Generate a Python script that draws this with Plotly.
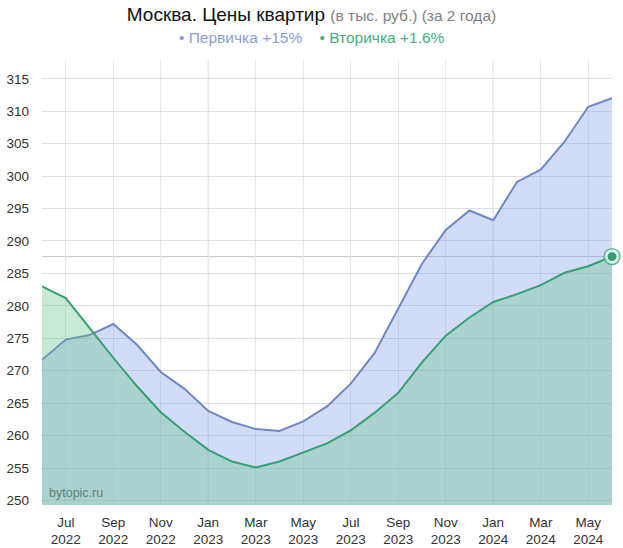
import plotly.graph_objects as go

months = ["2022-06", "2022-07", "2022-08", "2022-09", "2022-10", "2022-11", "2022-12",
          "2023-01", "2023-02", "2023-03", "2023-04", "2023-05", "2023-06", "2023-07",
          "2023-08", "2023-09", "2023-10", "2023-11", "2023-12", "2024-01", "2024-02",
          "2024-03", "2024-04", "2024-05", "2024-06"]
primary = [271.7, 274.8, 275.5, 277.2, 274.0, 269.8, 267.2, 263.8, 262.1, 261.0, 260.7,
           262.2, 264.5, 268.0, 272.7, 279.6, 286.5, 291.7, 294.7, 293.2, 299.1, 301.0,
           305.3, 310.7, 312.0]
secondary = [283.0, 281.2, 276.6, 272.0, 267.6, 263.6, 260.6, 257.8, 256.0, 255.1, 256.0,
             257.4, 258.8, 260.8, 263.5, 266.6, 271.3, 275.4, 278.2, 280.6, 281.8, 283.2,
             285.1, 286.1, 287.6]
tick_months = ["2022-07", "2022-09", "2022-11", "2023-01", "2023-03", "2023-05",
               "2023-07", "2023-09", "2023-11", "2024-01", "2024-03", "2024-05"]
tick_labels = ["Jul<br>2022", "Sep<br>2022", "Nov<br>2022", "Jan<br>2023", "Mar<br>2023",
               "May<br>2023", "Jul<br>2023", "Sep<br>2023", "Nov<br>2023", "Jan<br>2024",
               "Mar<br>2024", "May<br>2024"]
year_starts = ["2023-01", "2024-01"]

BLUE = "#6e87c8"
GREEN = "#35a071"
FONT = "Liberation Sans, Arial, sans-serif"

fig = go.Figure()
fig.add_trace(go.Scatter(x=months, y=primary, mode="lines", fill="tozeroy",
                         line=dict(color=BLUE, width=2),
                         fillcolor="rgba(105,140,225,0.30)", hoverinfo="skip"))
fig.add_trace(go.Scatter(x=months, y=secondary, mode="lines", fill="tozeroy",
                         line=dict(color=GREEN, width=2),
                         fillcolor="rgba(98,192,135,0.35)", hoverinfo="skip"))
# highlighted last point
fig.add_trace(go.Scatter(x=[months[-1]], y=[secondary[-1]], mode="markers",
                         marker=dict(size=16, color="rgba(210,240,225,0.7)",
                                     line=dict(color="rgba(53,160,113,0.8)", width=1.3)),
                         cliponaxis=False, hoverinfo="skip"))
fig.add_trace(go.Scatter(x=[months[-1]], y=[secondary[-1]], mode="markers",
                         marker=dict(size=10, color=GREEN, line=dict(color="white", width=1)),
                         cliponaxis=False, hoverinfo="skip"))

shapes = []
for m in year_starts:
    shapes.append(dict(type="line", xref="x", yref="paper", x0=m, x1=m, y0=0, y1=1,
                       line=dict(color="#cfcfcf", width=1), layer="below"))
shapes.append(dict(type="line", xref="paper", yref="y", x0=0, x1=1,
                   y0=secondary[-1], y1=secondary[-1],
                   line=dict(color="#c8c8c8", width=1), layer="below"))

fig.update_layout(
    width=623, height=548,
    margin=dict(l=42, r=11, t=60, b=43),
    paper_bgcolor="white", plot_bgcolor="white",
    showlegend=False,
    font=dict(family=FONT, size=13, color="#333333"),
    title=dict(
        text="Москва. Цены квартир <span style='font-size:15.5px;color:#808080'>(в тыс. руб.) (за 2 года)</span>",
        x=0.5, xref="container", xanchor="center",
        y=1 - 14 / 548, yref="container", yanchor="middle",
        font=dict(family=FONT, size=19, color="#111111")),
    xaxis=dict(type="category", range=[0, len(months) - 1], automargin=False,
               tickmode="array", tickvals=tick_months, ticktext=tick_labels,
               showgrid=True, gridcolor="#e8e8e8", gridwidth=1,
               zeroline=False, showline=False, ticks="", ticklabelstandoff=7,
               tickfont=dict(size=13.5, color="#333333")),
    yaxis=dict(range=[249.3, 317.9], dtick=5, tick0=250, automargin=False,
               showgrid=True, gridcolor="#e0e0e0", gridwidth=1,
               zeroline=False, showline=False, ticks="", ticklabelstandoff=12,
               tickfont=dict(size=13.5, color="#333333")),
    shapes=shapes,
    annotations=[
        dict(text="<span style='color:#8a9fd6'>• Первичка +15%</span>&nbsp;&nbsp;&nbsp;&nbsp;"
                  "<span style='color:#46ad7c'>• Вторичка +1.6%</span>",
             xref="paper", yref="paper", x=(311.5 - 42) / 570, y=1 + (60 - 37) / 445,
             xanchor="center", yanchor="middle", showarrow=False,
             font=dict(family=FONT, size=15.5)),
        dict(text="bytopic.ru", xref="paper", yref="paper", x=5 / 570, y=12 / 445,
             xanchor="left", yanchor="middle", showarrow=False,
             font=dict(family=FONT, size=12.5, color="#5f7f7a")),
    ],
)

fig.write_html("out.html")
